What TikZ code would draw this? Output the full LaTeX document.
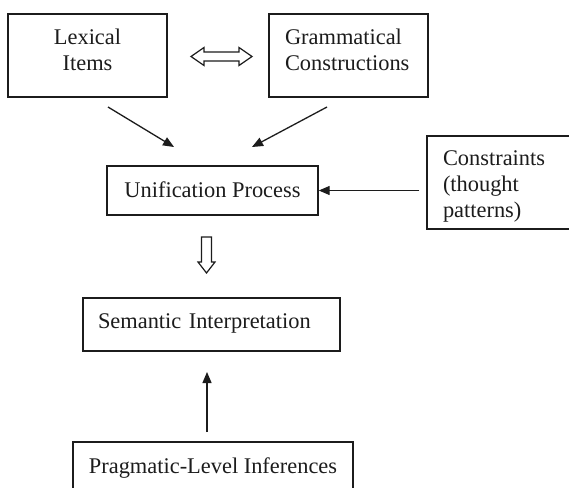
\documentclass[tikz,border=0pt]{standalone}
\usepackage{fontspec}
\setmainfont{Liberation Serif}
\usetikzlibrary{arrows.meta}
\definecolor{ink}{HTML}{1C1C1C}
\begin{document}
\begin{tikzpicture}[x=1pt,y=-1pt,
  every node/.style={font=\fontsize{22.4}{26}\selectfont, text=ink},
  box/.style={draw=ink, line width=1.4pt, rectangle, inner ysep=0pt, text height=15.3pt},
  arr/.style={draw=ink, line width=1.3pt, -{Triangle[length=11pt,width=9pt]}},
  hollow/.style={draw=ink, line width=1.2pt, fill=white, line join=miter}]
\useasboundingbox (0,0) rectangle (569,487);
\clip (0,0) rectangle (569,487);
\fill[white] (0,0) rectangle (569,487);

% boxes
\node[box, minimum width=159pt, minimum height=83pt, inner xsep=16pt,
  text width=127pt, align=center, text depth=36.3pt]
  (lex) at (87.5,55.5) {Lexical\\Items};
\node[box, minimum width=159pt, minimum height=83pt, inner xsep=16pt,
  text width=127pt, align=left, text depth=36.3pt]
  (gram) at (348.5,55.5) {Grammatical\\Constructions};
\node[box, minimum width=211pt, minimum height=49pt, align=center, text depth=2.3pt]
  (uni) at (212.5,190.5) {Unification Process};
\node[box, minimum width=180pt, minimum height=93pt, inner xsep=16pt,
  text width=148pt, align=left, text depth=50.3pt]
  (con) at (517,182.5) {Constraints\\(thought\\patterns)};
\node[box, minimum width=257pt, minimum height=53pt, inner xsep=15pt,
  text width=227pt, align=left, text depth=8.3pt]
  (sem) at (211.5,324.5) {Semantic Interpretation};
\node[box, minimum width=280pt, minimum height=52pt, align=center, text depth=5.3pt]
  (prag) at (213,468) {Pragmatic-Level Inferences};

% hollow double arrow between the two source boxes
\draw[hollow] (191,56.5) -- (204,47.5) -- (204,52) -- (239,52) -- (239,47.5)
  -- (252,56.5) -- (239,65.5) -- (239,61) -- (204,61) -- (204,65.5) -- cycle;

% hollow down arrow from unification to interpretation
\draw[hollow] (201.5,237) -- (211.5,237) -- (211.5,262) -- (215,262)
  -- (206.5,273) -- (198,262) -- (201.5,262) -- cycle;

% connectors
\coordinate (a1s) at (108,107);
\coordinate (a1e) at (174,147);
\coordinate (a2s) at (327,107);
\coordinate (a2e) at (252,147);
\coordinate (a4s) at (207,432);
\coordinate (a4e) at (207,372);
\draw[arr] (a1s) -- (a1e);
\draw[arr] (a2s) -- (a2e);
\draw[arr, shorten <=7pt] (con.west |- uni.east) -- (uni.east);
\draw[arr] (a4s) -- (a4e);
\end{tikzpicture}
\end{document}
